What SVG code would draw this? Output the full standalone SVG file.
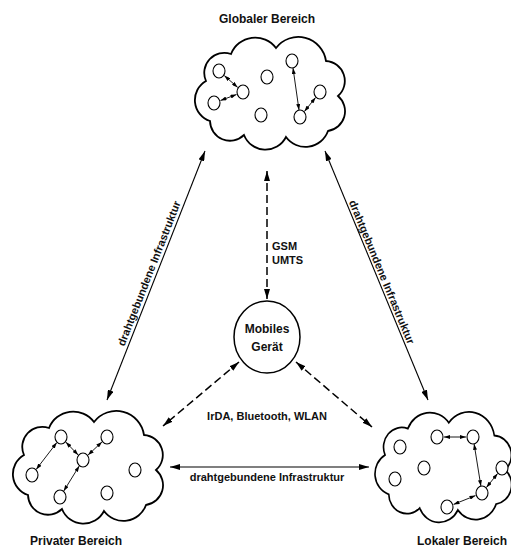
<svg xmlns="http://www.w3.org/2000/svg" width="511" height="548" viewBox="0 0 511 548">
<style>
text{font-family:"Liberation Sans",Arial,sans-serif;font-weight:bold;fill:#111}
.t12{font-size:12px}
.t11{font-size:11px}
.cloud{fill:#fff;stroke:#000;stroke-width:1.8;vector-effect:non-scaling-stroke}
.n{fill:#fff;stroke:#000;stroke-width:1.1}
.sm{stroke:#000;stroke-width:0.9;fill:none;marker-start:url(#s);marker-end:url(#s)}
.big{stroke:#000;stroke-width:1.1;fill:none;marker-start:url(#a);marker-end:url(#a)}
.dash{stroke:#000;stroke-width:1.5;fill:none;stroke-dasharray:8 4;marker-start:url(#a);marker-end:url(#a)}
</style>
<defs>
<marker id="a" viewBox="0 0 10 6" refX="10" refY="3" markerWidth="10" markerHeight="6" orient="auto-start-reverse" markerUnits="userSpaceOnUse"><path d="M0,0 L10,3 L0,6 z" fill="#000"/></marker>
<marker id="s" viewBox="0 0 6 4" refX="6" refY="2" markerWidth="6" markerHeight="4" orient="auto-start-reverse" markerUnits="userSpaceOnUse"><path d="M0,0 L6,2 L0,4 z" fill="#000"/></marker>
<path id="cl" d="M10,45 A20,20 0 0 1 35,18 A26,26 0 0 1 80,12 A28,28 0 0 1 130,25 A20,20 0 0 1 142,60 A20,20 0 0 1 132,95 A24,24 0 0 1 90,101 A23,23 0 0 1 48,99 A20,20 0 0 1 14,85 A22,22 0 0 1 10,45 Z"/>
</defs>

<g id="global">
<use href="#cl" class="cloud" transform="translate(196,36)"/>
<text class="t12" x="267" y="23" text-anchor="middle">Globaler Bereich</text>
<ellipse class="n" cx="219" cy="71" rx="6" ry="7"/>
<ellipse class="n" cx="243" cy="92" rx="6" ry="7"/>
<ellipse class="n" cx="214" cy="103" rx="6" ry="7"/>
<ellipse class="n" cx="267" cy="77" rx="6" ry="7"/>
<ellipse class="n" cx="261" cy="115" rx="6" ry="7"/>
<ellipse class="n" cx="292" cy="61" rx="6" ry="7"/>
<ellipse class="n" cx="320" cy="92" rx="6" ry="7"/>
<ellipse class="n" cx="300" cy="117" rx="6" ry="7"/>
<line class="sm" x1="224.3" y1="75.6" x2="237.7" y2="87.4"/>
<line class="sm" x1="220.5" y1="100.5" x2="236.5" y2="94.5"/>
<line class="sm" x1="293" y1="68" x2="299" y2="110"/>
<line class="sm" x1="315.6" y1="97.5" x2="304.4" y2="111.5"/>
</g>

<g id="privat">
<use href="#cl" class="cloud" transform="translate(14,410)"/>
<text class="t12" x="76" y="545" text-anchor="middle">Privater Bereich</text>
<ellipse class="n" cx="61" cy="437" rx="6" ry="7"/>
<ellipse class="n" cx="107" cy="437" rx="6" ry="7"/>
<ellipse class="n" cx="83" cy="460" rx="6" ry="7"/>
<ellipse class="n" cx="32" cy="475" rx="6" ry="7"/>
<ellipse class="n" cx="135" cy="470" rx="6" ry="7"/>
<ellipse class="n" cx="60" cy="497" rx="6" ry="7"/>
<ellipse class="n" cx="107" cy="493" rx="6" ry="7"/>
<line class="sm" x1="36.2" y1="469.4" x2="56.8" y2="442.6"/>
<line class="sm" x1="65.8" y1="442.1" x2="78.2" y2="455"/>
<line class="sm" x1="102" y1="441.9" x2="88" y2="455.1"/>
<line class="sm" x1="79.3" y1="465.9" x2="63.7" y2="491.1"/>
</g>

<g id="lokal">
<use href="#cl" class="cloud" transform="translate(376,411) scale(0.91,0.98)"/>
<text class="t12" x="462" y="545" text-anchor="middle">Lokaler Bereich</text>
<ellipse class="n" cx="437" cy="437" rx="6" ry="7"/>
<ellipse class="n" cx="473" cy="437" rx="6" ry="7"/>
<ellipse class="n" cx="400" cy="447" rx="6" ry="7"/>
<ellipse class="n" cx="424" cy="468" rx="6" ry="7"/>
<ellipse class="n" cx="395" cy="479" rx="6" ry="7"/>
<ellipse class="n" cx="502" cy="468" rx="6" ry="7"/>
<ellipse class="n" cx="482" cy="493" rx="6" ry="7"/>
<ellipse class="n" cx="447" cy="507" rx="6" ry="7"/>
<line class="sm" x1="444" y1="437" x2="466" y2="437"/>
<line class="sm" x1="474.1" y1="443.9" x2="480.9" y2="486.1"/>
<line class="sm" x1="497.6" y1="473.5" x2="486.4" y2="487.5"/>
<line class="sm" x1="475.5" y1="495.6" x2="453.5" y2="504.4"/>
</g>

<g id="mobil">
<ellipse cx="267" cy="337" rx="33" ry="36" fill="#fff" stroke="#000" stroke-width="1.5"/>
<text class="t12" x="267" y="333" text-anchor="middle">Mobiles</text>
<text class="t12" x="267" y="351" text-anchor="middle">Gerät</text>
</g>

<g id="connectors">
<line class="big" x1="205" y1="151" x2="107" y2="400"/>
<line class="big" x1="325" y1="151" x2="428" y2="400"/>
<line class="big" x1="170" y1="467" x2="369" y2="467"/>
<line class="dash" x1="267" y1="171" x2="267" y2="299"/>
<line class="dash" x1="239" y1="362" x2="163" y2="426"/>
<line class="dash" x1="296" y1="362" x2="372" y2="427"/>
<text class="t11" transform="translate(155.8,276.1) rotate(-68.5)" x="0" y="-3.5" text-anchor="middle">drahtgebundene Infrastruktur</text>
<text class="t11" transform="translate(376,274.5) rotate(67.5)" x="0" y="-2.5" text-anchor="middle">drahtgebundene Infrastruktur</text>
<text class="t11" x="267" y="481" text-anchor="middle">drahtgebundene Infrastruktur</text>
<text class="t11" x="272" y="250">GSM</text>
<text class="t11" x="272" y="264">UMTS</text>
<text class="t11" x="267" y="420" text-anchor="middle">IrDA, Bluetooth, WLAN</text>
</g>
</svg>
